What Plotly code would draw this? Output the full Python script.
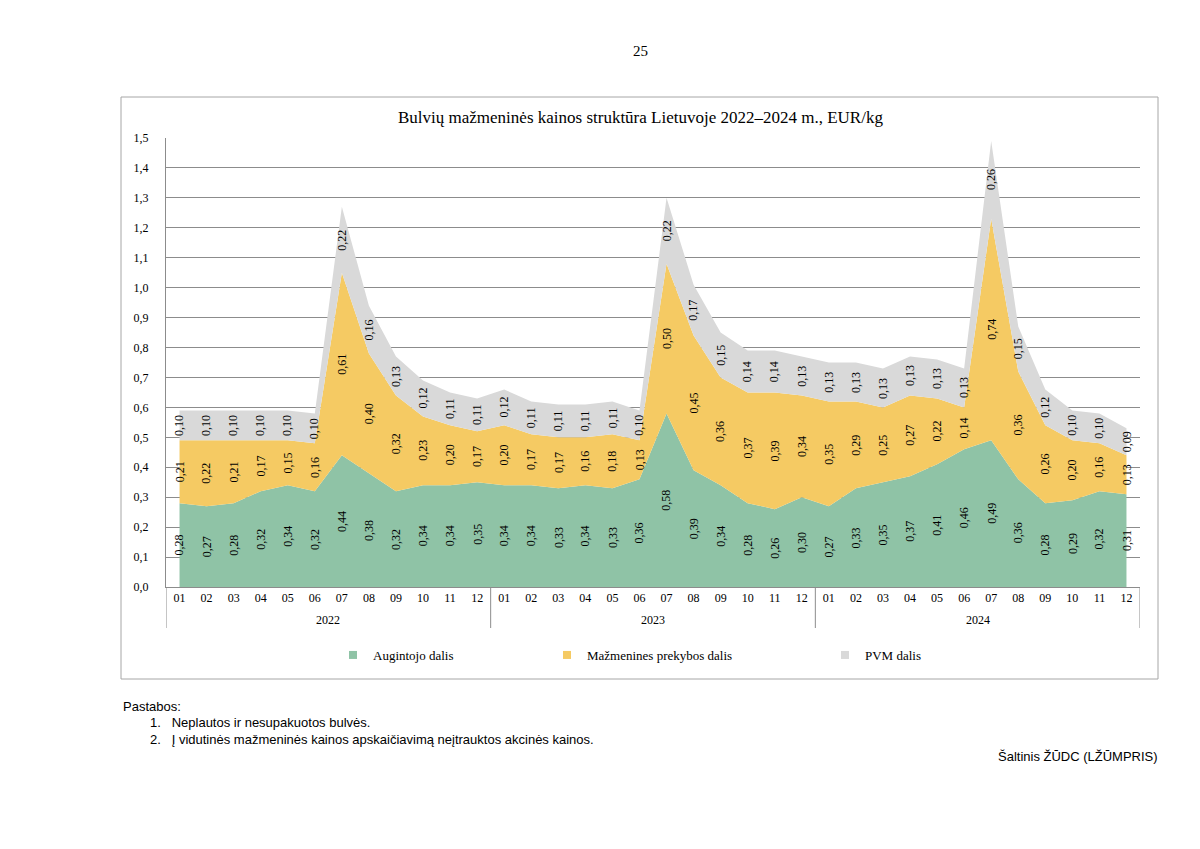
import plotly.graph_objects as go

months = ["01", "02", "03", "04", "05", "06", "07", "08", "09", "10", "11", "12"]
years = ["2022", "2023", "2024"]

augintojo = [0.28, 0.27, 0.28, 0.32, 0.34, 0.32, 0.44, 0.38, 0.32, 0.34, 0.34, 0.35,
             0.34, 0.34, 0.33, 0.34, 0.33, 0.36, 0.58, 0.39, 0.34, 0.28, 0.26, 0.30,
             0.27, 0.33, 0.35, 0.37, 0.41, 0.46, 0.49, 0.36, 0.28, 0.29, 0.32, 0.31]
mazmenines = [0.21, 0.22, 0.21, 0.17, 0.15, 0.16, 0.61, 0.40, 0.32, 0.23, 0.20, 0.17,
              0.20, 0.17, 0.17, 0.16, 0.18, 0.13, 0.50, 0.45, 0.36, 0.37, 0.39, 0.34,
              0.35, 0.29, 0.25, 0.27, 0.22, 0.14, 0.74, 0.36, 0.26, 0.20, 0.16, 0.13]
pvm = [0.10, 0.10, 0.10, 0.10, 0.10, 0.10, 0.22, 0.16, 0.13, 0.12, 0.11, 0.11,
       0.12, 0.11, 0.11, 0.11, 0.11, 0.10, 0.22, 0.17, 0.15, 0.14, 0.14, 0.13,
       0.13, 0.13, 0.13, 0.13, 0.13, 0.13, 0.26, 0.15, 0.12, 0.10, 0.10, 0.09]

series_names = ["Augintojo dalis", "Mažmenines prekybos dalis", "PVM dalis"]
colors = ["#8FC3A6", "#F5CA63", "#D9D9D9"]

SERIF = "Liberation Serif"
SANS = "Liberation Sans"

# page offset of the plot div (browser body margin)
OFF = 8
W, H = 1200, 849
# target plot-area edges in page pixels
L, R, T, B = 166, 1140, 138, 587

def pxx(px):
    return (px - L) / (R - L)

def pxy(py):
    return (B - py) / (B - T)

x = list(range(len(augintojo)))
fig = go.Figure()
all_series = [augintojo, mazmenines, pvm]
legends = ["legend", "legend2", "legend3"]
for name, vals, col in zip(series_names, all_series, colors):
    fig.add_trace(go.Scatter(
        x=x, y=vals, name=name, stackgroup="one", mode="none",
        fillcolor=col, hoverinfo="skip", showlegend=False,
    ))
# legend entries with small square keys
for name, col, lg in zip(series_names, colors, legends):
    fig.add_trace(go.Scatter(
        x=[None], y=[None], name=name, mode="markers", legend=lg,
        marker=dict(symbol="square", size=8, color=col), hoverinfo="skip",
    ))

annotations = []
base = [0.0] * len(x)
for vals in all_series:
    for i, v in enumerate(vals):
        annotations.append(dict(
            x=i, y=base[i] + v / 2, xref="x", yref="y",
            text=f"{v:.2f}".replace(".", ","), textangle=-90, showarrow=False,
            font=dict(family=SERIF, size=12, color="#000000"),
        ))
        base[i] += v

for k, yr in enumerate(years):
    annotations.append(dict(
        x=k * 12 + 5.5, y=pxy(620), xref="x", yref="paper", text=yr,
        showarrow=False, font=dict(family=SERIF, size=12, color="#000000"),
        yanchor="middle",
    ))

annotations.append(dict(
    x=pxx(640), y=pxy(118), xref="paper", yref="paper",
    text="Bulvių mažmeninės kainos struktūra Lietuvoje 2022–2024 m., EUR/kg",
    showarrow=False, font=dict(family=SERIF, size=17, color="#000000"),
    xanchor="center", yanchor="middle",
))
annotations.append(dict(
    x=pxx(640), y=pxy(51), xref="paper", yref="paper", text="25",
    showarrow=False, font=dict(family=SERIF, size=15, color="#000000"),
    xanchor="center", yanchor="middle",
))

notes = [
    (121, 706, "Pastabos:"),
    (148, 722, "1.   Neplautos ir nesupakuotos bulvės."),
    (148, 739, "2.   Į vidutinės mažmeninės kainos apskaičiavimą neįtrauktos akcinės kainos."),
]
for px, py, t in notes:
    annotations.append(dict(
        x=pxx(px), y=pxy(py), xref="paper", yref="paper", text=t,
        showarrow=False, xanchor="left", yanchor="middle",
        font=dict(family=SANS, size=13, color="#000000"),
    ))
annotations.append(dict(
    x=pxx(1160), y=pxy(756), xref="paper", yref="paper",
    text="Šaltinis ŽŪDC (LŽŪMPRIS)", showarrow=False, xanchor="right",
    yanchor="middle", font=dict(family=SANS, size=13, color="#000000"),
))

shapes = []
for k in range(len(years) + 1):
    shapes.append(dict(
        type="line", xref="x", yref="paper", x0=k * 12 - 0.5, x1=k * 12 - 0.5,
        y0=0, y1=pxy(628), line=dict(color="#8c8c8c", width=1),
    ))
shapes.append(dict(
    type="rect", xref="paper", yref="paper",
    x0=pxx(121), x1=pxx(1158), y0=pxy(679), y1=pxy(97),
    line=dict(color="#a6a6a6", width=1), fillcolor="rgba(0,0,0,0)", layer="below",
))

leg_common = dict(orientation="h", xanchor="left", yanchor="middle",
                  font=dict(family=SERIF, size=13, color="#000000"),
                  bgcolor="rgba(0,0,0,0)", itemwidth=30)
fig.update_layout(
    width=W, height=H,
    margin=dict(l=L - OFF, r=W - (R - OFF), t=T - OFF, b=H - (B - OFF)),
    paper_bgcolor="white", plot_bgcolor="white",
    separators=", ",
    showlegend=True,
    legend=dict(x=pxx(333), y=pxy(655), **leg_common),
    legend2=dict(x=pxx(547), y=pxy(655), **leg_common),
    legend3=dict(x=pxx(825), y=pxy(655), **leg_common),
    xaxis=dict(
        range=[-0.5, len(x) - 0.5], tickmode="array", tickvals=x,
        ticktext=months * len(years), showgrid=False, zeroline=False,
        showline=True, linecolor="#8c8c8c", linewidth=1, ticks="",
        tickfont=dict(family=SERIF, size=12, color="#000000"),
        fixedrange=True,
    ),
    yaxis=dict(
        range=[0, 1.5], dtick=0.1, tickformat=".1f", showgrid=True,
        gridcolor="#8c8c8c", gridwidth=1, zeroline=False, showline=True,
        linecolor="#8c8c8c", linewidth=1, ticks="", ticklabelstandoff=14,
        tickfont=dict(family=SERIF, size=12, color="#000000"),
        fixedrange=True,
    ),
    annotations=annotations,
    shapes=shapes,
)

fig.write_html("out.html")
